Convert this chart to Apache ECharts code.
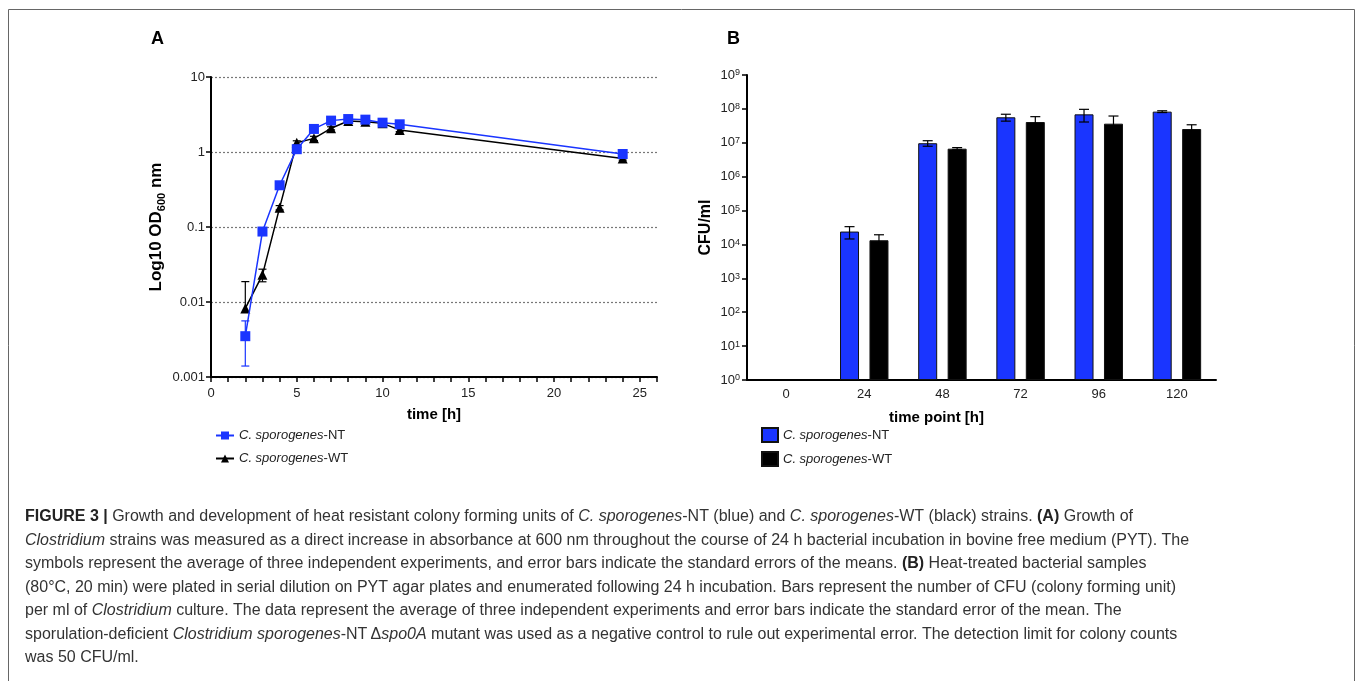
<!DOCTYPE html>
<html>
<head>
<meta charset="utf-8">
<script src="https://cdn.jsdelivr.net/npm/echarts@6/dist/echarts.min.js"></script>
<style>
  html, body { margin: 0; padding: 0; background: #fff; }
  #main { width: 1357px; height: 681px; }
</style>
</head>
<body>
<div id="main"></div>
<script>
// Panel A - growth curve (OD600, log scale)
const hours = [2, 3, 4, 5, 6, 7, 8, 9, 10, 11, 24];
const odNT = [0.0035, 0.087, 0.36, 1.09, 2.03, 2.62, 2.75, 2.7, 2.46, 2.34, 0.94];
const odNTErr = [0.0021, 0.006, 0.03, 0.08, 0.1, 0.12, 0.1, 0.1, 0.1, 0.1, 0.05];
const odWT = [0.0082, 0.023, 0.181, 1.33, 1.52, 2.07, 2.59, 2.54, 2.41, 1.97, 0.82];
const odWTErr = [0.0105, 0.0044, 0.012, 0.08, 0.1, 0.1, 0.1, 0.1, 0.1, 0.1, 0.04];

// Panel B - heat resistant CFU/ml
const timePoints = ['0', '24', '48', '72', '96', '120'];
const cfuNT = [null, 2.4e4, 9.7e6, 5.65e7, 6.9e7, 8.3e7];
const cfuNTErr = [null, 0.95e4, 1.8e6, 1.3e7, 2.8e7, 0.5e7];
const cfuWT = [null, 1.33e4, 6.7e6, 4.1e7, 3.66e7, 2.55e7];
const cfuWTErr = [null, 0.6e4, 0.5e6, 1.8e7, 2.5e7, 0.85e7];

const legendNames = {
  lineNT: '{i|C. sporogenes}-NT',
  lineWT: '{i|C. sporogenes}-WT',
  barNT: '{i|C. sporogenes}-NT',
  barWT: '{i|C. sporogenes}-WT'
};

const BLUE = '#1a35ff';
const FONT = 'Liberation Sans, Arial, sans-serif';
const BAR_W = 19;
const BAR_GAP = 0.55;

const chart = echarts.init(document.getElementById('main'));

// vertical error bar with caps; lower part skipped when it would go below zero
function errorBarItem(offsetPx, capHalf, color) {
  return function (params, api) {
    const x = api.value(0);
    const y = api.value(1);
    const e = api.value(2);
    if (y == null || isNaN(y) || isNaN(e)) return;
    const top = api.coord([x, y + e]);
    const mid = api.coord([x, y]);
    const bot = y - e > 0 ? api.coord([x, y - e]) : mid;
    const cx = top[0] + offsetPx;
    const style = { stroke: color, lineWidth: 1.2 };
    const children = [
      { type: 'line', shape: { x1: cx, y1: top[1], x2: cx, y2: bot[1] }, style: style },
      { type: 'line', shape: { x1: cx - capHalf, y1: top[1], x2: cx + capHalf, y2: top[1] }, style: style }
    ];
    if (bot !== mid) {
      children.push({ type: 'line', shape: { x1: cx - capHalf, y1: bot[1], x2: cx + capHalf, y2: bot[1] }, style: style });
    }
    return { type: 'group', children: children };
  };
}

const barShift = (BAR_W + BAR_W * BAR_GAP) / 2;

const captionLines = [
  '{b|FIGURE 3 |} Growth and development of heat resistant colony forming units of {i|C. sporogenes}-NT (blue) and {i|C. sporogenes}-WT (black) strains. {b|(A)} Growth of',
  '{i|Clostridium} strains was measured as a direct increase in absorbance at 600 nm throughout the course of 24 h bacterial incubation in bovine free medium (PYT). The',
  'symbols represent the average of three independent experiments, and error bars indicate the standard errors of the means. {b|(B)} Heat-treated bacterial samples',
  '(80°C, 20 min) were plated in serial dilution on PYT agar plates and enumerated following 24 h incubation. Bars represent the number of CFU (colony forming unit)',
  'per ml of {i|Clostridium} culture. The data represent the average of three independent experiments and error bars indicate the standard error of the mean. The',
  'sporulation-deficient {i|Clostridium sporogenes}-NT\u2009Δ{i|spo0A} mutant was used as a negative control to rule out experimental error. The detection limit for colony counts',
  'was 50 CFU/ml.'
];

const captionRich = {
  b: { fontWeight: 'bold', fontSize: 16, fontFamily: FONT, fill: '#222' },
  i: { fontStyle: 'italic', fontSize: 16, fontFamily: FONT, fill: '#333' }
};

const graphics = [
  { type: 'rect', shape: { x: 8.5, y: 9.5, width: 1346, height: 700 }, style: { fill: 'none', stroke: '#666', lineWidth: 1 }, silent: true },
  { type: 'text', left: 151, top: 30, style: { text: 'A', font: 'bold 18px ' + FONT, fill: '#000' } },
  { type: 'text', left: 727, top: 30, style: { text: 'B', font: 'bold 18px ' + FONT, fill: '#000' } }
];
captionLines.forEach(function (line, i) {
  graphics.push({
    type: 'text',
    left: 25,
    top: 509 + i * 23.5,
    style: { text: line, font: '16px ' + FONT, fill: '#333', rich: captionRich }
  });
});

const legendText = {
  fontSize: 13, color: '#222', fontFamily: FONT,
  rich: { i: { fontStyle: 'italic', fontSize: 13, color: '#222', fontFamily: FONT } }
};

const option = {
  animation: false,
  backgroundColor: '#fff',
  textStyle: { fontFamily: FONT },
  graphic: graphics,
  grid: [
    { left: 211, top: 77, width: 446, height: 300 },
    { left: 747, top: 75, width: 469, height: 305 }
  ],
  legend: [
    {
      data: ['lineNT', 'lineWT'],
      orient: 'vertical',
      left: 210,
      top: 424,
      itemWidth: 18,
      itemHeight: 10,
      itemGap: 10,
      formatter: function (n) { return legendNames[n]; },
      textStyle: legendText
    },
    {
      data: ['barNT', 'barWT'],
      orient: 'vertical',
      left: 756,
      top: 422,
      icon: 'rect',
      itemWidth: 16,
      itemHeight: 14,
      itemGap: 8,
      formatter: function (n) { return legendNames[n]; },
      textStyle: legendText
    }
  ],
  xAxis: [
    {
      type: 'value',
      gridIndex: 0,
      min: 0,
      max: 26,
      interval: 1,
      name: 'time [h]',
      nameLocation: 'middle',
      nameGap: 30,
      nameTextStyle: { fontSize: 15, fontWeight: 'bold', color: '#000' },
      axisLine: { lineStyle: { color: '#000', width: 2 } },
      axisTick: { length: 5, lineStyle: { color: '#000', width: 1.5 } },
      axisLabel: {
        fontSize: 13, color: '#222', margin: 10,
        formatter: function (v) { return v % 5 === 0 && v <= 25 ? String(v) : ''; }
      },
      splitLine: { show: false }
    },
    {
      type: 'category',
      gridIndex: 1,
      data: timePoints,
      name: 'time point [h]',
      nameLocation: 'middle',
      nameGap: 30,
      nameTextStyle: { fontSize: 15, fontWeight: 'bold', color: '#000', padding: [0, 90, 0, 0] },
      axisLine: { lineStyle: { color: '#000', width: 2 } },
      axisTick: { alignWithLabel: true, length: 5, lineStyle: { color: '#000', width: 1.5 } },
      axisLabel: { fontSize: 13, color: '#222', margin: 8 }
    }
  ],
  yAxis: [
    {
      type: 'log',
      gridIndex: 0,
      logBase: 10,
      min: 0.001,
      max: 10,
      name: 'Log10 OD{s|600} nm',
      nameLocation: 'middle',
      nameGap: 44,
      nameTextStyle: {
        fontSize: 17, fontWeight: 'bold', color: '#000', lineHeight: 22,
        rich: { s: { fontSize: 11, fontWeight: 'bold', color: '#000', lineHeight: 10, verticalAlign: 'bottom' } }
      },
      axisLine: { show: true, lineStyle: { color: '#000', width: 2 } },
      axisTick: { show: true, length: 5, lineStyle: { color: '#000', width: 1.5 } },
      axisLabel: { fontSize: 13, color: '#222', margin: 6 },
      splitLine: { show: true, lineStyle: { color: '#777', type: [2, 2], width: 1.2 } }
    },
    {
      type: 'log',
      gridIndex: 1,
      logBase: 10,
      min: 1,
      max: 1e9,
      name: 'CFU/ml',
      nameLocation: 'middle',
      nameGap: 33,
      nameTextStyle: { fontSize: 16, fontWeight: 'bold', color: '#000' },
      axisLine: { show: true, lineStyle: { color: '#000', width: 2 } },
      axisTick: { show: true, length: 5, lineStyle: { color: '#000', width: 1.5 } },
      axisLabel: {
        fontSize: 13, color: '#222', margin: 7,
        formatter: function (v) { return '10{s|' + Math.round(Math.log10(v)) + '}'; },
        rich: { s: { fontSize: 9, color: '#222', lineHeight: 9, verticalAlign: 'top' } }
      },
      splitLine: { show: false }
    }
  ],
  series: [
    {
      type: 'custom',
      name: 'errWT',
      xAxisIndex: 0, yAxisIndex: 0,
      renderItem: errorBarItem(0, 4, '#000'),
      encode: { x: 0, y: 1 },
      data: hours.map(function (h, i) { return [h, odWT[i], odWTErr[i]]; }),
      z: 1
    },
    {
      type: 'custom',
      name: 'errNT',
      xAxisIndex: 0, yAxisIndex: 0,
      renderItem: errorBarItem(0, 4, BLUE),
      encode: { x: 0, y: 1 },
      data: hours.map(function (h, i) { return [h, odNT[i], odNTErr[i]]; }),
      z: 1
    },
    {
      type: 'line',
      name: 'lineWT',
      xAxisIndex: 0, yAxisIndex: 0,
      data: hours.map(function (h, i) { return [h, odWT[i]]; }),
      symbol: 'triangle',
      symbolSize: 10,
      lineStyle: { color: '#000', width: 1.5 },
      itemStyle: { color: '#000' },
      z: 3
    },
    {
      type: 'line',
      name: 'lineNT',
      xAxisIndex: 0, yAxisIndex: 0,
      data: hours.map(function (h, i) { return [h, odNT[i]]; }),
      symbol: 'rect',
      symbolSize: 10,
      lineStyle: { color: BLUE, width: 1.5 },
      itemStyle: { color: BLUE },
      z: 4
    },
    {
      type: 'bar',
      name: 'barNT',
      xAxisIndex: 1, yAxisIndex: 1,
      data: cfuNT,
      barWidth: BAR_W,
      barGap: (BAR_GAP * 100) + '%',
      itemStyle: { color: BLUE, borderColor: '#111', borderWidth: 1 }
    },
    {
      type: 'bar',
      name: 'barWT',
      xAxisIndex: 1, yAxisIndex: 1,
      data: cfuWT,
      barWidth: BAR_W,
      barGap: (BAR_GAP * 100) + '%',
      itemStyle: { color: '#000', borderColor: '#111', borderWidth: 1 }
    },
    {
      type: 'custom',
      name: 'errBarNT',
      xAxisIndex: 1, yAxisIndex: 1,
      renderItem: errorBarItem(-barShift, 5, '#000'),
      encode: { x: 0, y: 1 },
      data: timePoints.map(function (t, i) { return [i, cfuNT[i], cfuNTErr[i]]; }).filter(function (d) { return d[1] != null; }),
      z: 5
    },
    {
      type: 'custom',
      name: 'errBarWT',
      xAxisIndex: 1, yAxisIndex: 1,
      renderItem: errorBarItem(barShift, 5, '#000'),
      encode: { x: 0, y: 1 },
      data: timePoints.map(function (t, i) { return [i, cfuWT[i], cfuWTErr[i]]; }).filter(function (d) { return d[1] != null; }),
      z: 5
    }
  ]
};

chart.setOption(option);
</script>
</body>
</html>
